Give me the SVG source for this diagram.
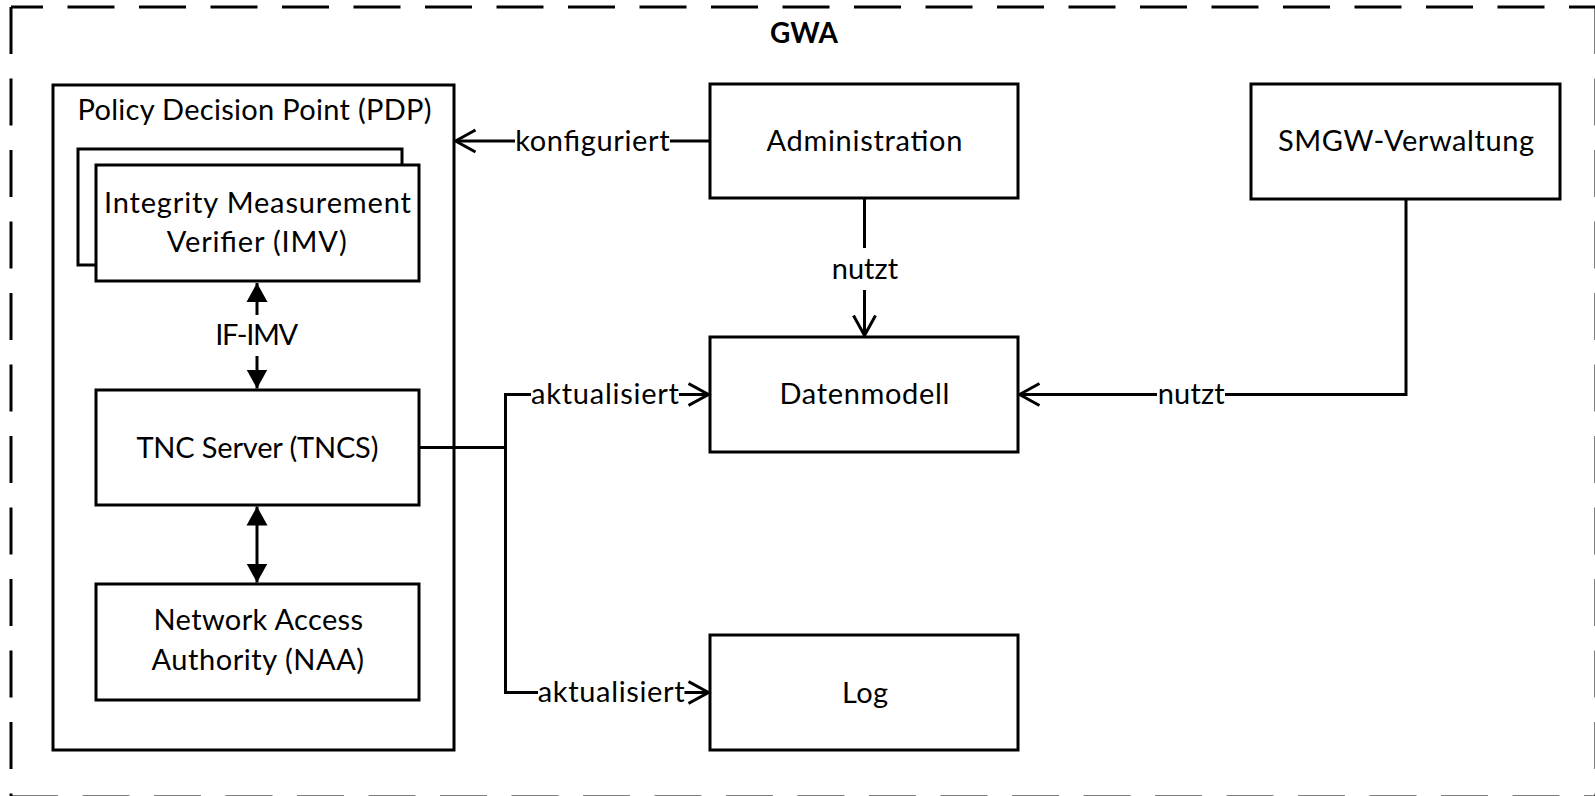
<svg xmlns="http://www.w3.org/2000/svg" width="1595" height="796" viewBox="0 0 1595 796">
<style>
.box{fill:#fff;stroke:#000;stroke-width:3}
.ln{fill:none;stroke:#000;stroke-width:3}
.dash{fill:none;stroke:#000;stroke-width:3;stroke-dasharray:47 24.5}
.t{font-family:Lato,"Open Sans","Liberation Sans",sans-serif;font-size:29px;text-anchor:middle;fill:#000}
.b{font-weight:bold;font-size:28px}
</style>
<defs>
<marker id="open" markerUnits="userSpaceOnUse" viewBox="0 0 24 26" refX="21" refY="13" markerWidth="24" markerHeight="26" orient="auto">
<path d="M1,2 L21,13 L1,24" fill="none" stroke="#000" stroke-width="3"/>
</marker>
<marker id="fill" markerUnits="userSpaceOnUse" viewBox="0 0 20 22" refX="19" refY="11" markerWidth="20" markerHeight="22" orient="auto-start-reverse">
<path d="M0,0.5 L19,11 L0,21.5 Z" fill="#000"/>
</marker>
</defs>
<rect width="1595" height="796" fill="#fff"/>
<g id="gwa-frame">
<path class="dash" d="M11,7 H1598" style="stroke-dashoffset:15"/>
<path class="dash" d="M11,7 V799"/>
<path class="dash" d="M1596,7 V799"/>
<path class="dash" d="M11,797 H1598"/>
<text class="t b" x="804" y="43" textLength="68">GWA</text>
</g>
<g id="pdp">
<rect class="box" x="53" y="85" width="401" height="665"/>
<text class="t" x="254.5" y="120" textLength="354">Policy Decision Point (PDP)</text>
</g>
<g id="imv">
<rect class="box" x="78" y="149" width="324" height="116"/>
<rect class="box" x="96" y="165" width="323" height="116"/>
<text class="t" x="257.4" y="213" textLength="307">Integrity Measurement</text>
<text class="t" x="256.7" y="252" textLength="180">Verifier (IMV)</text>
</g>
<g id="tncs">
<rect class="box" x="96" y="390" width="323" height="115"/>
<text class="t" x="257.4" y="457.5" textLength="242">TNC Server (TNCS)</text>
</g>
<g id="naa">
<rect class="box" x="96" y="584" width="323" height="116"/>
<text class="t" x="258.3" y="630" textLength="209.5">Network Access</text>
<text class="t" x="257.8" y="670" textLength="212.5">Authority (NAA)</text>
</g>
<g id="administration">
<rect class="box" x="710" y="84" width="308" height="114"/>
<text class="t" x="864.4" y="150.5" textLength="196">Administration</text>
</g>
<g id="datenmodell">
<rect class="box" x="710" y="337" width="308" height="115"/>
<text class="t" x="864.4" y="404" textLength="170">Datenmodell</text>
</g>
<g id="log">
<rect class="box" x="710" y="635" width="308" height="115"/>
<text class="t" x="865" y="702.5" textLength="46">Log</text>
</g>
<g id="smgw">
<rect class="box" x="1251" y="84" width="309" height="115"/>
<text class="t" x="1406" y="151" textLength="256">SMGW-Verwaltung</text>
</g>
<g id="connectors">
<path class="ln" d="M710,141 H670"/>
<path class="ln" d="M515,141 H455.5" marker-end="url(#open)"/>
<text class="t" x="592.4" y="150.7" textLength="154.5">konfiguriert</text>
<path class="ln" d="M864.5,198 V248"/>
<path class="ln" d="M864.5,290 V335.5" marker-end="url(#open)"/>
<text class="t" x="864.9" y="279" textLength="66.5">nutzt</text>
<path class="ln" d="M1406,199 V394.5 H1225"/>
<path class="ln" d="M1157,394.5 H1019.5" marker-end="url(#open)"/>
<text class="t" x="1191.2" y="404.3" textLength="67">nutzt</text>
<path class="ln" d="M419,447.5 H505.5 V394.5 H531"/>
<path class="ln" d="M679,394.5 H708.5" marker-end="url(#open)"/>
<text class="t" x="605" y="403.5" textLength="148">aktualisiert</text>
<path class="ln" d="M505.5,447.5 V692.5 H538"/>
<path class="ln" d="M684.5,692.5 H708.5" marker-end="url(#open)"/>
<text class="t" x="611.2" y="701.8" textLength="147">aktualisiert</text>
<path class="ln" d="M257,315 V283" marker-end="url(#fill)"/>
<path class="ln" d="M257,356 V388.5" marker-end="url(#fill)"/>
<text class="t" x="256.7" y="345" textLength="83">IF-IMV</text>
<path class="ln" d="M257,506.5 V582.5" marker-start="url(#fill)" marker-end="url(#fill)"/>
</g>
</svg>
